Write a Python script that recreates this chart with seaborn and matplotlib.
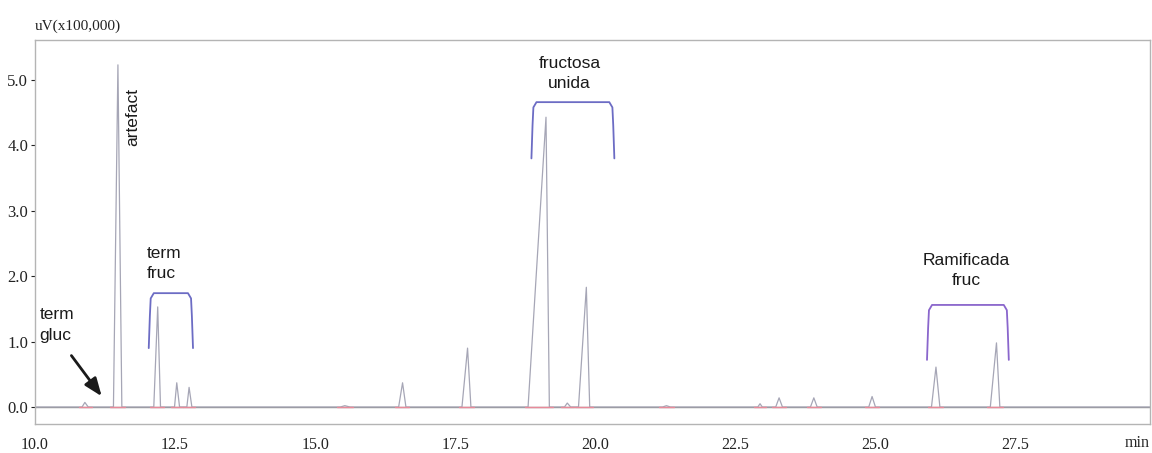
import numpy as np
import pandas as pd
import matplotlib
matplotlib.use("Agg")
import matplotlib.pyplot as plt
import seaborn as sns

# ---- data (time in min, signal in uV x100,000) ----
peak_start = [10.84, 11.40, 12.12, 12.49, 12.71, 15.45, 16.49, 17.62, 18.80, 19.45, 19.70, 21.20, 22.90, 23.22, 23.84, 24.88, 26.00, 27.05]
peak_apex  = [10.89, 11.48, 12.19, 12.53, 12.75, 15.53, 16.56, 17.72, 19.12, 19.50, 19.84, 21.27, 22.94, 23.28, 23.90, 24.94, 26.08, 27.16]
peak_end   = [10.95, 11.55, 12.24, 12.58, 12.80, 15.62, 16.62, 17.78, 19.18, 19.56, 19.90, 21.34, 22.98, 23.34, 23.96, 25.00, 26.15, 27.22]
peak_height = [0.07, 5.23, 1.53, 0.37, 0.30, 0.02, 0.37, 0.90, 4.43, 0.06, 1.83, 0.02, 0.05, 0.14, 0.14, 0.16, 0.61, 0.98]

x_ticks = [10.0, 12.5, 15.0, 17.5, 20.0, 22.5, 25.0, 27.5]
x_tick_labels = ["10.0", "12.5", "15.0", "17.5", "20.0", "22.5", "25.0", "27.5"]
y_ticks = [0.0, 1.0, 2.0, 3.0, 4.0, 5.0]
y_tick_labels = ["0.0", "1.0", "2.0", "3.0", "4.0", "5.0"]

# group brackets: (left, right, top, bottom)
bracket_left = [12.03, 18.86, 25.92]
bracket_right = [12.82, 20.34, 27.38]
bracket_top = [1.74, 4.66, 1.56]
bracket_bottom = [0.90, 3.80, 0.72]
bracket_colors = ["#6c6cc4", "#6c6cc4", "#8a66cc"]

# ---- build trace from the peak readings ----
t_start, t_end = 10.0, 29.9
xs, ys = [t_start], [0.0]
for s, a, e, h in zip(peak_start, peak_apex, peak_end, peak_height):
    xs += [s, a, e]
    ys += [0.0, h, 0.0]
xs.append(t_end)
ys.append(0.0)
trace = pd.DataFrame({"time": xs, "signal": ys})

sns.set_theme(style="white")
plt.rcParams["font.family"] = ["Liberation Serif", "DejaVu Serif"]

fig = plt.figure(figsize=(11.52, 4.53), dpi=100)
ax = fig.add_axes([35 / 1152, 1 - 424 / 453, (1150 - 35) / 1152, (424 - 40) / 453])

ax.axhline(0.0, color="#8c8c8c", lw=1.0, zorder=1)
sns.lineplot(data=trace, x="time", y="signal", ax=ax, color="#a6a6b6",
             lw=0.9, estimator=None, sort=False, zorder=2)

# pink baseline marks under peaks
for s, e in zip(peak_start, peak_end):
    ax.plot([s - 0.06, e + 0.06], [0.0, 0.0], color="#e88a9a", lw=1.0, zorder=3)

ax.set_xlim(t_start, t_end)
ax.set_ylim(-0.26, 5.61)
ax.set_xticks(x_ticks)
ax.set_xticklabels(x_tick_labels)
ax.set_yticks(y_ticks)
ax.set_yticklabels(y_tick_labels)
ax.set_xlabel("")
ax.set_ylabel("")
ax.tick_params(axis="x", length=0, pad=9.5, labelsize=11.5, colors="#222222")
ax.tick_params(axis="y", length=3, width=0.8, pad=2, labelsize=12, colors="#222222", left=True)
for sp in ax.spines.values():
    sp.set_color("#b4b4b4")
    sp.set_linewidth(1.0)

# brackets
for l, r, tp, b, c in zip(bracket_left, bracket_right, bracket_top, bracket_bottom, bracket_colors):
    bx = [l, l + 0.02, l + 0.035, l + 0.09, r - 0.09, r - 0.035, r - 0.02, r]
    by = [b, tp - 0.35, tp - 0.08, tp, tp, tp - 0.08, tp - 0.35, b]
    ax.plot(bx, by, color=c, lw=1.3, zorder=4)

sans = ["Liberation Sans", "DejaVu Sans"]
tkw = dict(family=sans, fontsize=12.5, color="#1a1a1a")
ax.text(10.08, 1.26, "term\ngluc", ha="left", va="center", linespacing=1.5, **tkw)
ax.text(12.00, 2.19, "term\nfruc", ha="left", va="center", linespacing=1.4, **tkw)
ax.text(19.54, 5.10, "fructosa\nunida", ha="center", va="center", linespacing=1.4, **tkw)
ax.text(26.62, 2.09, "Ramificada\nfruc", ha="center", va="center", linespacing=1.4, **tkw)
ax.text(11.75, 4.43, "artefact", ha="center", va="center", rotation=90, **tkw)

ax.annotate("", xy=(11.22, 0.13), xytext=(10.62, 0.82),
            arrowprops=dict(arrowstyle="-|>,head_length=0.9,head_width=0.35",
                            color="#1a1a1a", lw=2.0))

fig.text(35 / 1152, 1 - 26 / 453, "uV(x100,000)", ha="left", va="center",
         fontsize=11, color="#222222")
fig.text(1137 / 1152, 1 - 443 / 453, "min", ha="center", va="center",
         fontsize=11.5, color="#222222")

fig.savefig("out.png", dpi=100)
